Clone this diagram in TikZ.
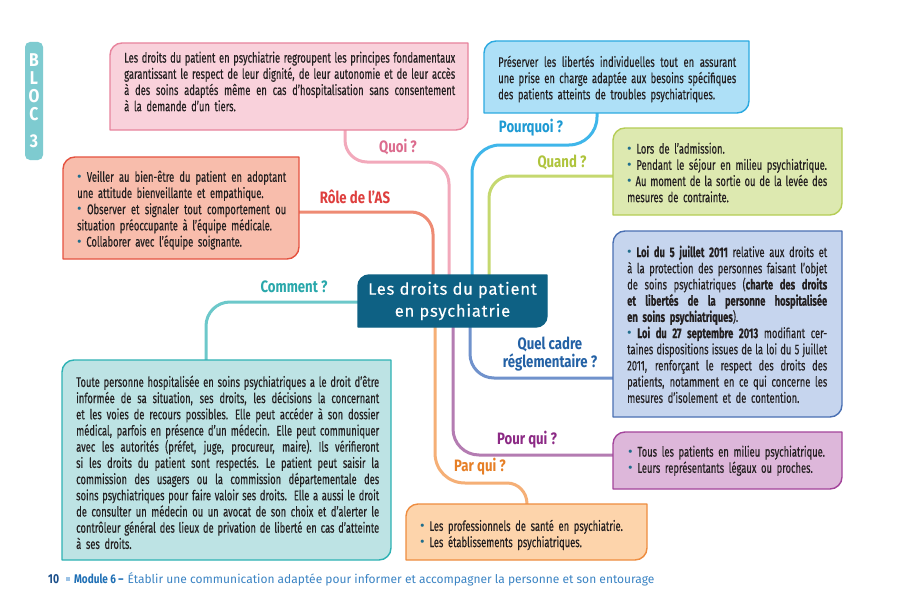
\documentclass[tikz,border=0pt]{standalone}
\usepackage{fontspec}
\setmainfont{Fira Sans}
\newfontfamily\bodyf[FakeStretch=0.67,FakeBold=0.3]{Fira Sans}
\newfontfamily\labf[FakeStretch=0.8]{Fira Sans}
\newfontfamily\titf[LetterSpace=5,FakeBold=0.4]{Fira Sans}
\newfontfamily\tabf[FakeStretch=0.85]{Fira Sans}
\newfontfamily\plainf{Fira Sans}
\usetikzlibrary{calc}
\definecolor{txt}{HTML}{231F20}
\definecolor{bulc}{HTML}{1F6D8C}
\definecolor{pinkF}{HTML}{F9D1DB}\definecolor{pinkD}{HTML}{E8849D}\definecolor{pinkL}{HTML}{DC6C8E}\definecolor{pinkC}{HTML}{F2A9BB}
\definecolor{blueF}{HTML}{AEE0F7}\definecolor{blueD}{HTML}{2AA9E0}\definecolor{blueL}{HTML}{1E9AD3}\definecolor{blueC}{HTML}{3FB6EA}
\definecolor{greenF}{HTML}{DDE9B0}\definecolor{greenD}{HTML}{B5CD55}\definecolor{greenL}{HTML}{AFC43C}\definecolor{greenC}{HTML}{C5D86F}
\definecolor{navyF}{HTML}{C6D5EE}\definecolor{navyD}{HTML}{4A70B3}\definecolor{navyL}{HTML}{2361A5}\definecolor{navyC}{HTML}{7092CC}
\definecolor{purpF}{HTML}{DDB7DA}\definecolor{purpD}{HTML}{A3449B}\definecolor{purpL}{HTML}{8C2A85}\definecolor{purpC}{HTML}{B47CB2}
\definecolor{orF}{HTML}{FDD4AB}\definecolor{orD}{HTML}{EE8C3F}\definecolor{orL}{HTML}{E67F26}\definecolor{orC}{HTML}{F5AF76}
\definecolor{tealF}{HTML}{BDE3E4}\definecolor{tealD}{HTML}{2EB2B4}\definecolor{tealL}{HTML}{2AA8AB}\definecolor{tealC}{HTML}{6CC8CA}
\definecolor{redF}{HTML}{F8BDAC}\definecolor{redD}{HTML}{E5523F}\definecolor{redL}{HTML}{DE3F3E}\definecolor{redC}{HTML}{EE8B74}
\definecolor{hubc}{HTML}{0E6184}
\definecolor{tabc}{HTML}{7ECBD0}
\definecolor{fnum}{HTML}{1B4F8A}
\definecolor{fmod}{HTML}{1E6FB5}
\definecolor{fsq}{HTML}{9CC3E6}
\definecolor{ftxt}{HTML}{3B84C4}
\pgfdeclarelayer{bg}\pgfdeclarelayer{mid}\pgfsetlayers{bg,mid,main}
\newlength\bw
\newcommand\J[1]{\leavevmode\hbox to\bw{\spaceskip=2.4pt plus 12pt minus 0.9pt\relax #1}\\}
\newcommand\bul{{\plainf\color{bulc}\raisebox{0.3pt}{•}}\ }
\newcommand\shapebox[4]{%
 \path[fill=#2,draw=#3,line width=1.4pt,line join=round] (#1.south west) -- ($(#1.north west)+(0,#4)$) .. controls ($(#1.north west)+(0,0.448*#4)$) and ($(#1.north west)+(0.448*#4,0)$) .. ($(#1.north west)+(#4,0)$) -- (#1.north east) -- ($(#1.south east)+(0,-#4)$) .. controls ($(#1.south east)+(0,-0.448*#4)$) and ($(#1.south east)+(-0.448*#4,0)$) .. ($(#1.south east)+(-#4,0)$) -- cycle;}
\begin{document}
\begin{tikzpicture}[x=1pt,y=-1pt,
  shp/.style={inner sep=0pt,outer sep=0pt,draw=none},
  tx/.style={inner sep=0pt,anchor=north west,align=left,text=txt,font=\bodyf\fontsize{14}{16.2}\selectfont},
  lab/.style={font=\labf\bfseries\fontsize{16.5}{18}\selectfont,inner sep=0pt,align=center},
  conn/.style={line width=3pt}]
\useasboundingbox (0,0) rectangle (901,599);
\begin{pgfonlayer}{bg}
\fill[white] (0,0) rectangle (901,599);
\end{pgfonlayer}

% box frames
\node[shp,minimum width=358pt,minimum height=87pt] (quoiB) at (289,86.5) {};
\node[shp,minimum width=265pt,minimum height=72pt] (pourB) at (616.5,77) {};
\node[shp,minimum width=229pt,minimum height=87pt] (quandB) at (727.5,171.5) {};
\node[shp,minimum width=229pt,minimum height=186pt] (quelB) at (727.5,324) {};
\node[shp,minimum width=229pt,minimum height=57pt] (pqB) at (727.5,460.5) {};
\node[shp,minimum width=241pt,minimum height=56pt] (parB) at (526.5,532) {};
\node[shp,minimum width=329pt,minimum height=200pt] (commB) at (226.5,460) {};
\node[shp,minimum width=236pt,minimum height=102pt] (roleB) at (181,208) {};
\node[shp,minimum width=189pt,minimum height=52pt] (hub) at (452.5,301) {};

\begin{pgfonlayer}{mid}
\shapebox{quoiB}{pinkF}{pinkD}{12}
\shapebox{pourB}{blueF}{blueD}{12}
\shapebox{quandB}{greenF}{greenD}{12}
\shapebox{quelB}{navyF}{navyD}{12}
\shapebox{pqB}{purpF}{purpD}{12}
\shapebox{parB}{orF}{orD}{12}
\shapebox{commB}{tealF}{tealD}{12}
\shapebox{roleB}{redF}{redD}{12}
\shapebox{hub}{hubc}{hubc}{11}
\end{pgfonlayer}

% tab
\node[shp,fill=tabc,rounded corners=5pt,minimum width=18pt,minimum height=118pt] (tab) at (34,101) {};
\node[inner sep=0pt,anchor=north,align=center,text=white,font=\tabf\bfseries\fontsize{18.5}{18}\selectfont] (tabT) at ($(tab.north)+(0,11.5)$) {B\\L\\O\\C\\[9pt]3};

% connectors
\begin{pgfonlayer}{bg}
\draw[conn,draw=pinkC,rounded corners=22pt] ($(quoiB.south west)+(235,0)$) |- ($(hub.north west)+(91,-113)$) -- ($(hub.north west)+(91,0)$);
\draw[conn,draw=redC,rounded corners=22pt] ($(roleB.north east)+(0,55)$) -| ($(hub.north west)+(75,0)$);
\draw[conn,draw=blueC,rounded corners=28pt] ($(pourB.south west)+(113,0)$) |- ($(hub.north west)+(114,-130)$) -- ($(hub.north west)+(114,0)$);
\draw[conn,draw=greenC,rounded corners=22pt] ($(quandB.north west)+(0,48)$) -| ($(hub.north west)+(131,0)$);
\draw[conn,draw=tealC,rounded corners=24pt] ($(hub.north west)+(0,27)$) -| ($(commB.north west)+(144,0)$);
\draw[conn,draw=navyC,rounded corners=24pt] ($(hub.south west)+(112,0)$) |- ($(quelB.north west)+(0,147)$);
\draw[conn,draw=purpC,rounded corners=26pt] ($(hub.south west)+(95,0)$) |- ($(pqB.north west)+(0,23)$);
\draw[conn,draw=orC] ($(hub.south west)+(77,0)$) -- ($(hub.south west)+(77,126)$) .. controls ($(hub.south west)+(77,143)$) and ($(hub.south west)+(90,156)$) .. ($(hub.south west)+(107,156)$) -- ($(parB.north west)+(101,-21)$) .. controls ($(parB.north west)+(112,-21)$) and ($(parB.north west)+(121,-12)$) .. ($(parB.north west)+(121,0)$);
\end{pgfonlayer}

% hub text
\node[inner sep=0pt,align=center,text=white,font=\titf\fontsize{16.5}{22}\selectfont] (hubT) at (hub.center) {Les droits du patient\\en psychiatrie};

% texts
\node[tx,text width=331pt] (quoiT) at ($(quoiB.north west)+(14,8.5)$) {\setlength\bw{331pt}%
\J{Les droits du patient en psychiatrie regroupent les principes fondamentaux}
\J{garantissant le respect de leur dignité, de leur autonomie et de leur accès}
\J{à des soins adaptés même en cas d’hospitalisation sans consentement}
à la demande d’un tiers.};

\node[tx,text width=238pt] (pourT) at ($(pourB.north west)+(14,14.5)$) {\setlength\bw{238pt}%
\J{Préserver les libertés individuelles tout en assurant}
\J{une prise en charge adaptée aux besoins spécifiques}
des patients atteints de troubles psychiatriques.};

\node[tx,text width=200pt] (quandT) at ($(quandB.north west)+(14,14.5)$) {\setlength\bw{200pt}%
\bul Lors de l’admission.\\
\bul Pendant le séjour en milieu psychiatrique.\\
\J{\bul Au moment de la sortie ou de la levée des}
mesures de contrainte.};

\node[tx,text width=200pt] (quelT) at ($(quelB.north west)+(14,14.5)$) {\setlength\bw{200pt}%
\J{\bul\textbf{Loi du 5 juillet 2011} relative aux droits et}
\J{à la protection des personnes faisant l’objet}
\J{de soins psychiatriques (\textbf{charte des droits}}
\J{\textbf{et libertés de la personne hospitalisée}}
\textbf{en soins psychiatriques}).\\
\J{\bul\textbf{Loi du 27 septembre 2013} modifiant cer-}
\J{taines dispositions issues de la loi du 5 juillet}
\J{2011, renforçant le respect des droits des}
\J{patients, notamment en ce qui concerne les}
mesures d’isolement et de contention.};

\node[tx,text width=205pt] (pqT) at ($(pqB.north west)+(15,13.5)$) {%
\bul Tous les patients en milieu psychiatrique.\\
\bul Leurs représentants légaux ou proches.};

\node[tx,text width=220pt] (parT) at ($(parB.north west)+(14,15.5)$) {%
\bul Les professionnels de santé en psychiatrie.\\
\bul Les établissements psychiatriques.};

\node[tx,text width=303pt] (commT) at ($(commB.north west)+(14,15.5)$) {\setlength\bw{303pt}%
\J{Toute personne hospitalisée en soins psychiatriques a le droit d’être}
\J{informée de sa situation, ses droits, les décisions la concernant}
\J{et les voies de recours possibles. Elle peut accéder à son dossier}
\J{médical, parfois en présence d’un médecin. Elle peut communiquer}
\J{avec les autorités (préfet, juge, procureur, maire). Ils vérifieront}
\J{si les droits du patient sont respectés. Le patient peut saisir la}
\J{commission des usagers ou la commission départementale des}
\J{soins psychiatriques pour faire valoir ses droits. Elle a aussi le droit}
\J{de consulter un médecin ou un avocat de son choix et d’alerter le}
\J{contrôleur général des lieux de privation de liberté en cas d’atteinte}
à ses droits.};

\node[tx,text width=209pt] (roleT) at ($(roleB.north west)+(14,13.5)$) {\setlength\bw{209pt}%
\J{\bul Veiller au bien-être du patient en adoptant}
une attitude bienveillante et empathique.\\
\J{\bul Observer et signaler tout comportement ou}
situation préoccupante à l’équipe médicale.\\
\bul Collaborer avec l’équipe soignante.};

% labels
\node[lab,text=pinkL] (lQuoi) at (398,147) {Quoi ?};
\node[lab,text=blueL] (lPour) at (531,128) {Pourquoi ?};
\node[lab,text=greenL] (lQuand) at (562,162) {Quand ?};
\node[lab,text=redL] (lRole) at (355,197) {Rôle de l’AS};
\node[lab,text=tealL] (lComm) at (294,287) {Comment ?};
\node[lab,text=navyL] (lQuel) at (550,354) {Quel cadre\\réglementaire ?};
\node[lab,text=purpL] (lPq) at (527,440) {Pour qui ?};
\node[lab,text=orL] (lPar) at (480,467) {Par qui ?};

% footer
\node[anchor=west,inner sep=0pt] (foot) at (48,579) {{\labf\bfseries\fontsize{13}{15}\selectfont\color{fnum}10}\hspace{7pt}{\color{fsq}\rule[2pt]{4pt}{4pt}}\hspace{4pt}{\labf\bfseries\fontsize{12.5}{15}\selectfont\color{fmod}Module 6 –}\hspace{4pt}{\fontsize{12}{14}\selectfont\color{ftxt}Établir une communication adaptée pour informer et accompagner la personne et son entourage}};
\end{tikzpicture}
\end{document}
